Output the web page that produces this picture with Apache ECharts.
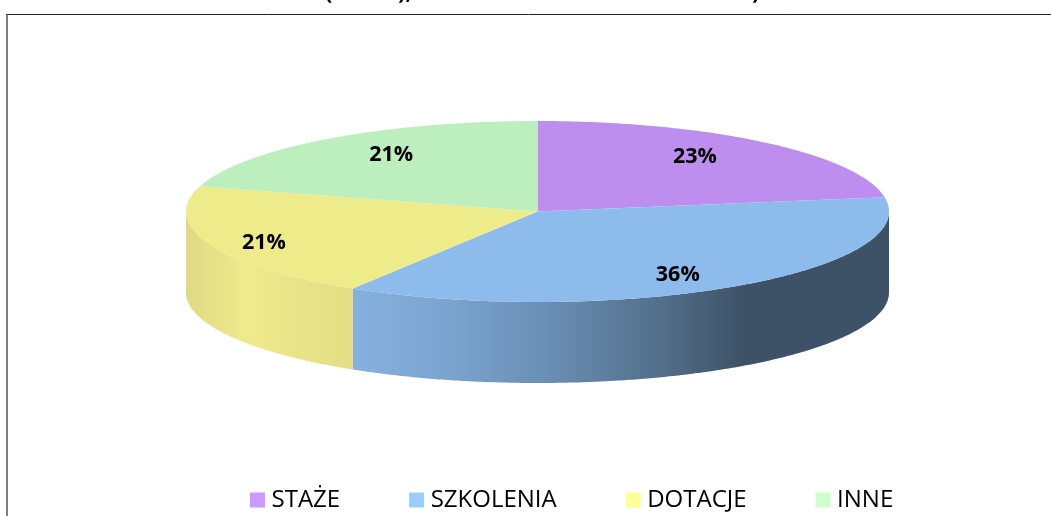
<!DOCTYPE html>
<html><head><meta charset="utf-8">
<style>html,body{margin:0;padding:0;background:#fff;overflow:hidden}#c{width:1051px;height:516px}</style>
<script src="https://cdn.jsdelivr.net/npm/echarts@6/dist/echarts.min.js"></script>
</head><body><div id="c"></div>
<script>
const categories = ['STAŻE', 'SZKOLENIA', 'DOTACJE', 'INNE'];
const values = [22.5, 36.3, 20.7, 20.5];

const legendColors = ['#cc99ff', '#99ccff', '#ffff99', '#ccffcc'];
const topColors = ['#bd8eee', '#8cbbec', '#edeb8a', '#bdeebd'];
const wallFills = [
  '#8a68ad',
  { type: 'linear', x: 0, y: 0, x2: 1, y2: 0, colorStops: [
    { offset: 0, color: '#86b0de' }, { offset: 0.18, color: '#7ba3cf' },
    { offset: 0.35, color: '#6b90b6' }, { offset: 0.55, color: '#55738f' },
    { offset: 0.73, color: '#3e5267' }, { offset: 1, color: '#3e5267' } ] },
  { type: 'linear', x: 0, y: 0, x2: 1, y2: 0, colorStops: [
    { offset: 0, color: '#dfd983' }, { offset: 0.36, color: '#efea8c' },
    { offset: 1, color: '#e3dd85' } ] },
  '#8aad8a'
];
const labelFactors = [[0.69, 0.792], [0.72, 0.843], [0.834, 0.97], [0.693, 0.786]];

const CX = 537.5, CY = 211.5, RX = 351.5, RY = 90.5, DEPTH = 81;
const total = values.reduce((a, b) => a + b, 0);
const pt = (deg, dy) => {
  const t = deg * Math.PI / 180;
  return [CX + RX * Math.sin(t), CY - RY * Math.cos(t) + (dy || 0)];
};
const arc = (a, b, dy) => {
  const out = [], n = Math.max(2, Math.ceil((b - a) * 2));
  for (let i = 0; i <= n; i++) out.push(pt(a + (b - a) * i / n, dy));
  return out;
};

function renderSlice(params, api) {
  const i = params.seriesIndex;
  const before = values.slice(0, i).reduce((a, b) => a + b, 0);
  const v = api.value(0);
  const a0 = before / total * 360, a1 = (before + v) / total * 360;
  const children = [];
  const w0 = Math.max(a0, 90), w1 = Math.min(a1, 270);
  if (w1 > w0) {
    children.push({ type: 'polygon', silent: true,
      shape: { points: arc(w0, w1, 0).concat(arc(w0, w1, DEPTH).reverse()) },
      style: { fill: wallFills[i] } });
  }
  children.push({ type: 'polygon', silent: true,
    shape: { points: [[CX, CY]].concat(arc(a0, a1, 0)) },
    style: { fill: topColors[i] } });
  const mid = (a0 + a1) / 2 * Math.PI / 180, f = labelFactors[i];
  children.push({ type: 'text', silent: true, z2: 10,
    x: CX + RX * f[0] * Math.sin(mid),
    y: CY - RY * f[1] * Math.cos(mid),
    style: { text: Math.round(v / total * 100 + 1e-9) + '%', align: 'center', verticalAlign: 'middle',
      font: 'bold 21.5px "Open Sans"', fill: '#000' } });
  return { type: 'group', children };
}

const clippedTitleBits = [['(', 325], ['),', 398], [')', 752]];

const chart = echarts.init(document.getElementById('c'), null, { renderer: 'canvas' });
chart.setOption({
  animation: false,
  backgroundColor: '#fff',
  legend: {
    data: categories, left: 250, top: 488, orient: 'horizontal', padding: 0,
    icon: 'rect', itemWidth: 15, itemHeight: 15, itemGap: 69,
    textStyle: { fontFamily: 'Open Sans', fontSize: 24, color: '#000', padding: [0, 0, 0, 1.5] },
    selectedMode: false
  },
  graphic: [
    { type: 'line', shape: { x1: 6, y1: 14.5, x2: 1051, y2: 14.5 }, style: { stroke: '#222', lineWidth: 1 } },
    { type: 'line', shape: { x1: 7, y1: 14, x2: 7, y2: 516 }, style: { stroke: '#555', lineWidth: 1.5 } }
  ].concat(clippedTitleBits.map(b => ({
    type: 'text', x: b[1], y: -18.5,
    style: { text: b[0], font: 'bold 22px "Open Sans"', fill: '#000', align: 'left' }
  }))),
  series: categories.map((name, i) => ({
    type: 'custom', name, coordinateSystem: 'none',
    renderItem: renderSlice, data: [[values[i]]],
    itemStyle: { color: legendColors[i] }, silent: true
  }))
});
</script></body></html>
